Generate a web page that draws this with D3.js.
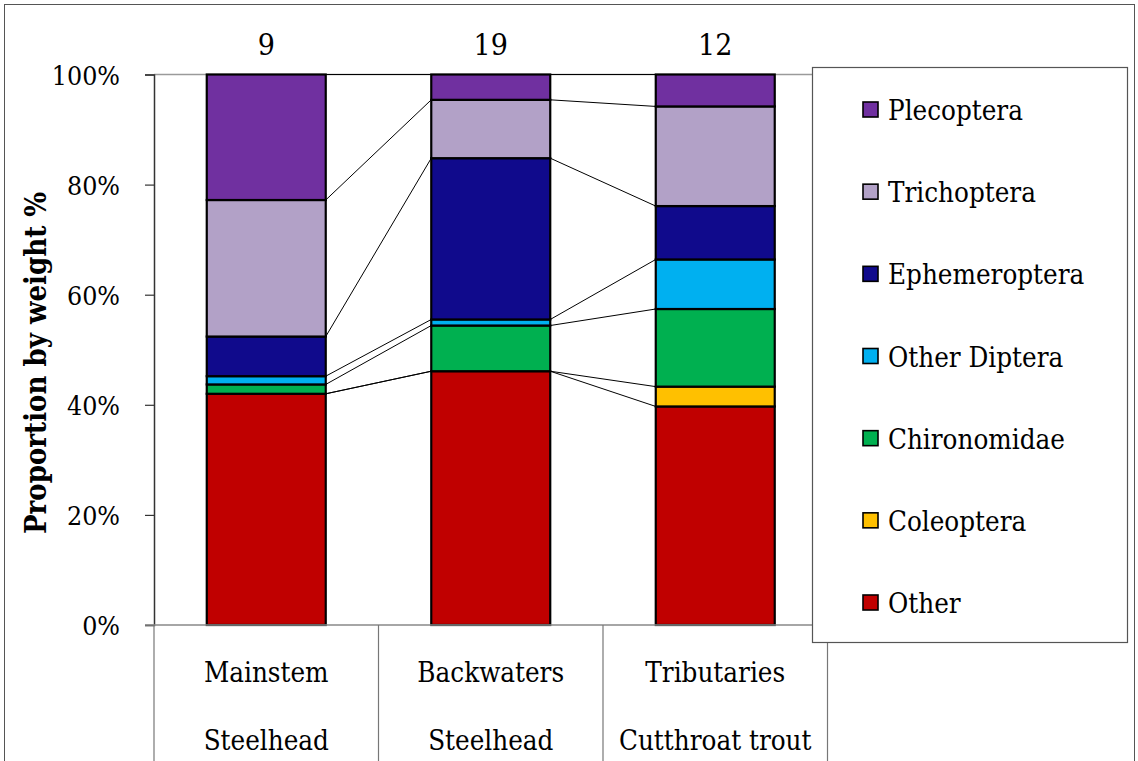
<!DOCTYPE html>
<html>
<head>
<meta charset="utf-8">
<script src="https://cdn.jsdelivr.net/npm/d3@7"></script>
<style>
  html, body { margin: 0; padding: 0; background: #fff; }
  svg { display: block; }
  svg text { font-family: "DejaVu Serif", serif; font-stretch: condensed; fill: #000; }
</style>
</head>
<body>
<svg id="chart" width="1138" height="761"></svg>
<script>
// Diet composition by weight for three fish groups
const groups = ["Mainstem", "Backwaters", "Tributaries"];
const species = ["Steelhead", "Steelhead", "Cutthroat trout"];
const sampleSizes = ["9", "19", "12"];

// Taxa, bottom of the stack first
const taxa = ["Other", "Coleoptera", "Chironomidae", "Other Diptera", "Ephemeroptera", "Trichoptera", "Plecoptera"];
const taxaColors = ["#C00000", "#FFC000", "#00B050", "#00B0F0", "#100A8C", "#B2A1C7", "#7030A0"];

// Percent of weight, one array per taxon, in group order
const other         = [42.0, 46.1, 39.7];
const coleoptera    = [0.0, 0.0, 3.6];
const chironomidae  = [1.7, 8.3, 14.1];
const otherDiptera  = [1.5, 1.1, 9.0];
const ephemeroptera = [7.2, 29.3, 9.7];
const trichoptera   = [24.8, 10.6, 18.1];
const plecoptera    = [22.8, 4.6, 5.8];

const yTicks = [0, 20, 40, 60, 80, 100];

const seriesValues = [other, coleoptera, chironomidae, otherDiptera, ephemeroptera, trichoptera, plecoptera];
const rows = groups.map((g, i) => {
  const r = { group: g };
  taxa.forEach((t, k) => { r[t] = seriesValues[k][i]; });
  return r;
});
const stacked = d3.stack().keys(taxa)(rows);

const svg = d3.select("#chart");
svg.append("rect").attr("width", 1138).attr("height", 761).attr("fill", "#fff");

// outer chart frame
svg.append("rect")
  .attr("x", 4.5).attr("y", 4.5).attr("width", 1130).attr("height", 790)
  .attr("fill", "none").attr("stroke", "#555").attr("stroke-width", 1);

const plotLeft = 154, plotRight = 827.5, plotTop = 74.5, plotBottom = 625;

const x = d3.scaleBand().domain(groups).range([plotLeft, plotRight])
  .paddingInner(0.47).paddingOuter(0.235);
const y = d3.scaleLinear().domain([0, 100]).range([plotBottom, plotTop]);
const color = d3.scaleOrdinal().domain(taxa).range(taxaColors);
const step = x.step();

// top edge of plot area
svg.append("line")
  .attr("x1", plotLeft).attr("x2", plotRight)
  .attr("y1", y(100)).attr("y2", y(100))
  .attr("stroke", "#9a9a9a").attr("stroke-width", 1.5);

// series lines joining matching stack boundaries of neighbouring bars
const seriesLines = svg.append("g");
stacked.forEach(layer => {
  for (let i = 0; i < groups.length - 1; i++) {
    seriesLines.append("line")
      .attr("x1", x(groups[i]) + x.bandwidth())
      .attr("y1", y(layer[i][1]))
      .attr("x2", x(groups[i + 1]))
      .attr("y2", y(layer[i + 1][1]))
      .attr("stroke", "#000").attr("stroke-width", 1);
  }
});

// stacked bars
svg.append("g").selectAll("g").data(stacked).join("g")
  .attr("fill", d => color(d.key))
  .selectAll("rect").data(d => d).join("rect")
    .attr("x", d => x(d.data.group))
    .attr("y", d => y(d[1]))
    .attr("width", x.bandwidth())
    .attr("height", d => Math.max(0, y(d[0]) - y(d[1])))
    .attr("stroke", "#000").attr("stroke-width", 2.2);

// y axis
const yAxis = svg.append("g")
  .attr("transform", `translate(${plotLeft},0)`)
  .call(d3.axisLeft(y).tickValues(yTicks).tickSize(9).tickPadding(25).tickFormat(d => d + "%"));
yAxis.attr("font-family", null).attr("font-size", null);
yAxis.select(".domain").attr("stroke", "#333").attr("stroke-width", 1.5);
yAxis.selectAll(".tick line").attr("stroke", "#333").attr("stroke-width", 1.2);
yAxis.selectAll(".tick text").attr("font-size", 26.5).attr("fill", "#000").attr("dy", "0.36em");

// y axis title
svg.append("text")
  .attr("transform", `translate(46,363) rotate(-90)`)
  .attr("text-anchor", "middle")
  .attr("font-size", 29).attr("font-weight", "bold")
  .text("Proportion by weight %");

// category axis with two label rows and separators
svg.append("line")
  .attr("x1", plotLeft - 9).attr("x2", plotRight)
  .attr("y1", plotBottom).attr("y2", plotBottom)
  .attr("stroke", "#888").attr("stroke-width", 1.5);
d3.range(groups.length + 1).forEach(i => {
  svg.append("line")
    .attr("x1", plotLeft + i * step).attr("x2", plotLeft + i * step)
    .attr("y1", plotBottom).attr("y2", 761)
    .attr("stroke", "#777").attr("stroke-width", 1.2);
});
const catLabels = svg.append("g").attr("text-anchor", "middle").attr("font-size", 27.5);
groups.forEach((g, i) => {
  const cx = plotLeft + (i + 0.5) * step;
  catLabels.append("text").attr("x", cx).attr("y", 682).text(g);
  catLabels.append("text").attr("x", cx).attr("y", 750).text(species[i]);
});

// sample sizes above bars
svg.append("g").selectAll("text").data(groups).join("text")
  .attr("x", d => x(d) + x.bandwidth() / 2)
  .attr("y", 55)
  .attr("text-anchor", "middle")
  .attr("font-size", 30)
  .text((d, i) => sampleSizes[i]);

// legend, top entry first
const legend = svg.append("g");
legend.append("rect")
  .attr("x", 812.5).attr("y", 67.5).attr("width", 315).attr("height", 575)
  .attr("fill", "#fff").attr("stroke", "#555").attr("stroke-width", 1.2);
const legendOrder = taxa.slice().reverse();
const legendY = d3.scalePoint().domain(legendOrder).range([110, 603]);
legendOrder.forEach(t => {
  const cy = legendY(t);
  legend.append("rect")
    .attr("x", 863).attr("y", cy - 8).attr("width", 15).attr("height", 15)
    .attr("fill", color(t)).attr("stroke", "#000").attr("stroke-width", 1.6);
  legend.append("text")
    .attr("x", 888).attr("y", cy + 10)
    .attr("font-size", 27.5)
    .text(t);
});
</script>
</body>
</html>
